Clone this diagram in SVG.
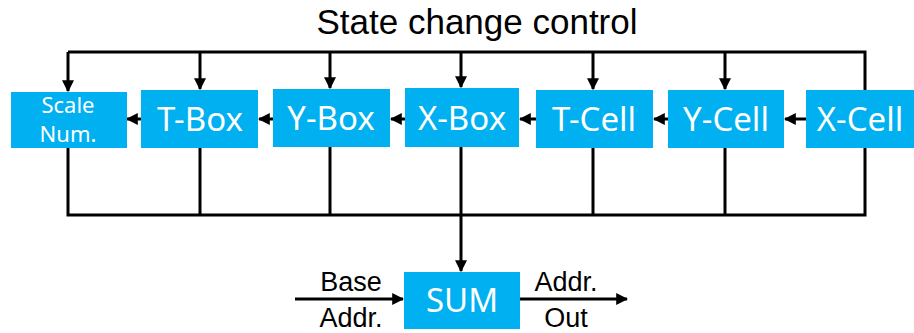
<svg xmlns="http://www.w3.org/2000/svg" width="914" height="333" viewBox="0 0 914 333">
<defs>
<marker id="ah" markerWidth="4" markerHeight="4" refX="3.6" refY="2" orient="auto" markerUnits="strokeWidth"><path d="M0,0 L4,2 L0,4 z" fill="#000"/></marker>
<style>
.box{fill:#00B0F0;}
.bt{font-family:"Noto Sans","Open Sans",sans-serif;font-size:33px;fill:#fff;text-anchor:middle;}
.st{font-family:"Noto Sans","Open Sans",sans-serif;font-size:22px;fill:#fff;text-anchor:middle;}
.ln{stroke:#000;stroke-width:3;fill:none;}
.ar{stroke:#000;stroke-width:3;fill:none;marker-end:url(#ah);}
.lb{font-family:"Liberation Sans",Arial,sans-serif;font-size:27px;fill:#000;text-anchor:middle;}
</style>
</defs>
<rect width="914" height="333" fill="#fff"/>
<text x="477" y="34" font-family="Liberation Sans, Arial, sans-serif" font-size="35px" text-anchor="middle">State change control</text>
<g id="connectors">
<polyline class="ln" points="865,90 865,52 68,52"/>
<line class="ar" x1="68" y1="52" x2="68" y2="91"/>
<line class="ar" x1="200" y1="52" x2="200" y2="89"/>
<line class="ar" x1="330" y1="52" x2="330" y2="88"/>
<line class="ar" x1="461" y1="52" x2="461" y2="87"/>
<line class="ar" x1="593" y1="52" x2="593" y2="89"/>
<line class="ar" x1="725" y1="52" x2="725" y2="89"/>
<line class="ar" x1="806" y1="119" x2="785" y2="119"/>
<line class="ar" x1="668" y1="119" x2="654" y2="119"/>
<line class="ar" x1="536" y1="119" x2="520" y2="119"/>
<line class="ar" x1="405" y1="119" x2="391" y2="119"/>
<line class="ar" x1="273" y1="119" x2="259" y2="119"/>
<line class="ar" x1="141" y1="119" x2="127" y2="119"/>
<polyline class="ln" points="68,148 68,215 865,215 865,148"/>
<line class="ln" x1="200" y1="148" x2="200" y2="215"/>
<line class="ln" x1="330" y1="147" x2="330" y2="215"/>
<line class="ln" x1="593" y1="148" x2="593" y2="215"/>
<line class="ln" x1="725" y1="148" x2="725" y2="215"/>
<line class="ar" x1="461" y1="147" x2="461" y2="271"/>
<line class="ar" x1="295" y1="299" x2="403" y2="299"/>
<line class="ar" x1="520" y1="299" x2="627" y2="299"/>
</g>
<g id="scale"><rect class="box" x="11" y="92" width="116" height="56"/><text class="st" x="68" y="113">Scale</text><text class="st" x="68" y="142">Num.</text></g>
<g id="tbox"><rect class="box" x="141" y="90" width="117" height="58"/><text class="bt" x="200" y="131">T-Box</text></g>
<g id="ybox"><rect class="box" x="273" y="89" width="117" height="58"/><text class="bt" x="331" y="130">Y-Box</text></g>
<g id="xbox"><rect class="box" x="405" y="88" width="114" height="59"/><text class="bt" x="462" y="130">X-Box</text></g>
<g id="tcell"><rect class="box" x="536" y="90" width="117" height="58"/><text class="bt" x="594" y="131">T-Cell</text></g>
<g id="ycell"><rect class="box" x="668" y="90" width="116" height="58"/><text class="bt" x="726" y="131">Y-Cell</text></g>
<g id="xcell"><rect class="box" x="806" y="90" width="108" height="58"/><text class="bt" x="860" y="131">X-Cell</text></g>
<g id="sum"><rect class="box" x="404" y="272" width="116" height="57"/><text class="bt" x="462" y="312">SUM</text></g>
<g id="labels">
<text class="lb" x="351" y="291">Base</text>
<text class="lb" x="351" y="327">Addr.</text>
<text class="lb" x="566" y="291">Addr.</text>
<text class="lb" x="566" y="327">Out</text>
</g>
</svg>
